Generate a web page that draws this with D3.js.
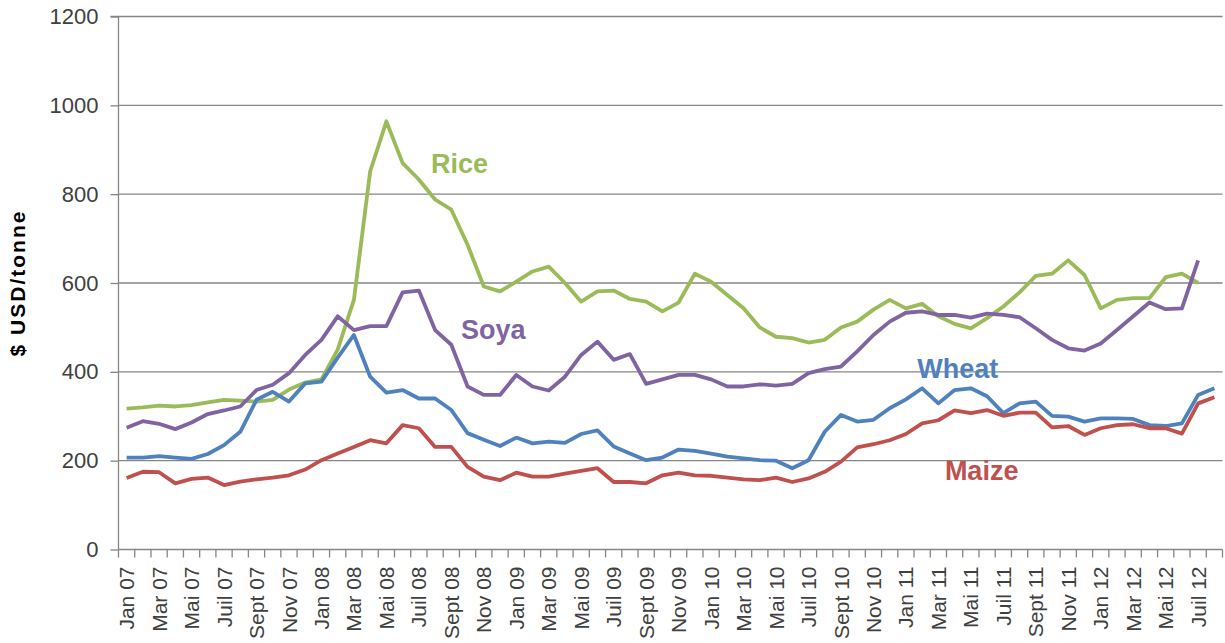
<!DOCTYPE html>
<html>
<head>
<meta charset="utf-8">
<script src="https://cdn.jsdelivr.net/npm/d3@7"></script>
<style>
  html, body { margin: 0; padding: 0; background: #fff; }
  svg { display: block; font-family: "Liberation Sans", Arial, sans-serif; }
</style>
</head>
<body>
<svg id="chart" width="1225" height="643"></svg>
<script>
const W = 1225;
const H = 643;

// month labels (French), Jan 07 .. Aug 12
const monthNames = ['Jan', 'Fév', 'Mar', 'Avr', 'Mai', 'Juin', 'Juil', 'Août', 'Sept', 'Oct', 'Nov', 'Déc'];
const years = ['07', '08', '09', '10', '11', '12'];
const months = years.flatMap(y => monthNames.map(m => `${m} ${y}`)).slice(0, 68);

const yTicks = [0, 200, 400, 600, 800, 1000, 1200];

// $ USD / tonne, monthly
const rice = [317, 320, 324, 322, 325, 331, 337, 335, 333, 337, 360, 376, 383, 450,
  562, 851, 964, 870, 833, 788, 765, 686, 592, 581, 603, 626, 637,
  600, 558, 581, 583, 564, 558, 536, 556, 621, 603, 573, 543, 500,
  479, 476, 466, 472, 500, 513, 540, 562, 543, 553, 525, 508, 498, 521,
  547, 579, 616, 621, 651, 618, 543, 562, 566, 566, 613, 621, 600, null];
const soya = [274, 289, 283, 271, 286, 305, 313, 322, 359, 371, 397, 438, 472, 525,
  494, 503, 503, 579, 583, 494, 461, 367, 348, 348, 393, 367, 358,
  389, 438, 468, 427, 440, 373, 383, 393, 393, 383, 367, 367, 372,
  369, 373, 397, 406, 412, 446, 483, 513, 533, 536, 528, 528, 522, 531,
  528, 523, 498, 472, 453, 448, 464, 494, 525, 556, 541, 543, 651, null];
const wheat = [207, 207, 210, 207, 204, 215, 235, 265, 337, 355, 333, 374, 378, 432,
  483, 389, 353, 359, 340, 340, 314, 262, 247, 233, 252, 239, 243,
  240, 260, 268, 232, 216, 201, 207, 225, 222, 216, 209, 205, 201,
  200, 183, 201, 265, 303, 288, 292, 318, 338, 363, 329, 359, 363, 345,
  307, 329, 333, 301, 299, 288, 295, 295, 294, 280, 278, 284, 348, 363];
const maize = [161, 175, 174, 149, 159, 162, 145, 153, 158, 162, 167, 180, 201, 216,
  231, 246, 239, 280, 273, 231, 231, 186, 164, 156, 173, 164, 164,
  171, 177, 183, 152, 152, 149, 167, 173, 167, 166, 162, 158, 156,
  162, 152, 160, 175, 198, 230, 237, 246, 260, 284, 291, 313, 307, 314,
  301, 308, 308, 275, 278, 258, 273, 280, 282, 273, 273, 261, 329, 343];

const series = [
  { name: 'Rice',  values: rice,  color: '#9BBB59', at: 19.25, label: 848 },
  { name: 'Soya',  values: soya,  color: '#8064A2', at: 21.1,  label: 474 },
  { name: 'Wheat', values: wheat, color: '#4F81BD', at: 49.2,  label: 386 },
  { name: 'Maize', values: maize, color: '#C0504D', at: 50.9,  label: 156 }
];

const m = { top: 16.5, right: 2.5, bottom: 93.5, left: 118.5 };
const svg = d3.select('#chart');

const x = d3.scaleBand().domain(months).range([m.left, W - m.right]).padding(0);
const xi = d3.scaleLinear().domain([0, months.length]).range([m.left, W - m.right]);
const y = d3.scaleLinear().domain([0, 1200]).range([H - m.bottom, m.top]);
const bw = x.bandwidth();
const grey = '#868686';
const textCol = '#404040';

// gridlines
svg.append('g').selectAll('line').data(yTicks.filter(d => d > 0)).join('line')
  .attr('x1', m.left).attr('x2', W - m.right)
  .attr('y1', d => y(d)).attr('y2', d => y(d))
  .attr('stroke', grey).attr('stroke-width', 1.3);

// y axis
const ya = svg.append('g').attr('transform', `translate(${m.left},0)`)
  .call(d3.axisLeft(y).tickValues(yTicks).tickFormat(d3.format('d')).tickSize(8).tickPadding(12));
ya.selectAll('line, path').attr('stroke', grey).attr('stroke-width', 1.3);
ya.select('.domain').attr('d', `M-8,${y(1200)}H0V${y(0)}`);
ya.selectAll('text').attr('font-size', 22).attr('fill', textCol)
  .attr('font-family', '"Liberation Sans", Arial, sans-serif');

// x axis: ticks between categories, labels every second month
const xa = svg.append('g');
xa.append('line').attr('x1', m.left).attr('x2', W - m.right)
  .attr('y1', y(0)).attr('y2', y(0)).attr('stroke', grey).attr('stroke-width', 1.3);
xa.selectAll('line.tk').data(d3.range(months.length + 1)).join('line')
  .attr('class', 'tk')
  .attr('x1', d => xi(d)).attr('x2', d => xi(d))
  .attr('y1', y(0)).attr('y2', y(0) + 8)
  .attr('stroke', grey).attr('stroke-width', 1.3);
xa.selectAll('text').data(months.filter((d, i) => i % 2 === 0)).join('text')
  .attr('transform', d => `translate(${x(d) + bw / 2},${y(0) + 17}) rotate(-90)`)
  .attr('dy', '0.36em')
  .attr('text-anchor', 'end')
  .attr('font-size', 21)
  .attr('fill', textCol)
  .text(d => d);

// axis title
svg.append('text')
  .attr('transform', `translate(17,${(y(0) + y(1200)) / 2}) rotate(-90)`)
  .attr('dy', '0.36em')
  .attr('text-anchor', 'middle')
  .attr('font-size', 21)
  .attr('font-weight', 'bold')
  .attr('letter-spacing', 2)
  .attr('fill', '#000')
  .text('$ USD/tonne');

// lines
const line = d3.line()
  .defined(d => d.v != null)
  .x(d => x(d.m) + bw / 2)
  .y(d => y(d.v));

svg.append('g').selectAll('path').data(series).join('path')
  .attr('fill', 'none')
  .attr('stroke', d => d.color)
  .attr('stroke-width', 3.8)
  .attr('stroke-linejoin', 'round')
  .attr('d', s => line(s.values.map((v, i) => ({ m: months[i], v }))));

// series labels
svg.append('g').selectAll('text').data(series).join('text')
  .attr('x', d => xi(d.at))
  .attr('y', d => y(d.label))
  .attr('font-size', 27)
  .attr('font-weight', 'bold')
  .attr('fill', d => d.color)
  .text(d => d.name);
</script>
</body>
</html>
